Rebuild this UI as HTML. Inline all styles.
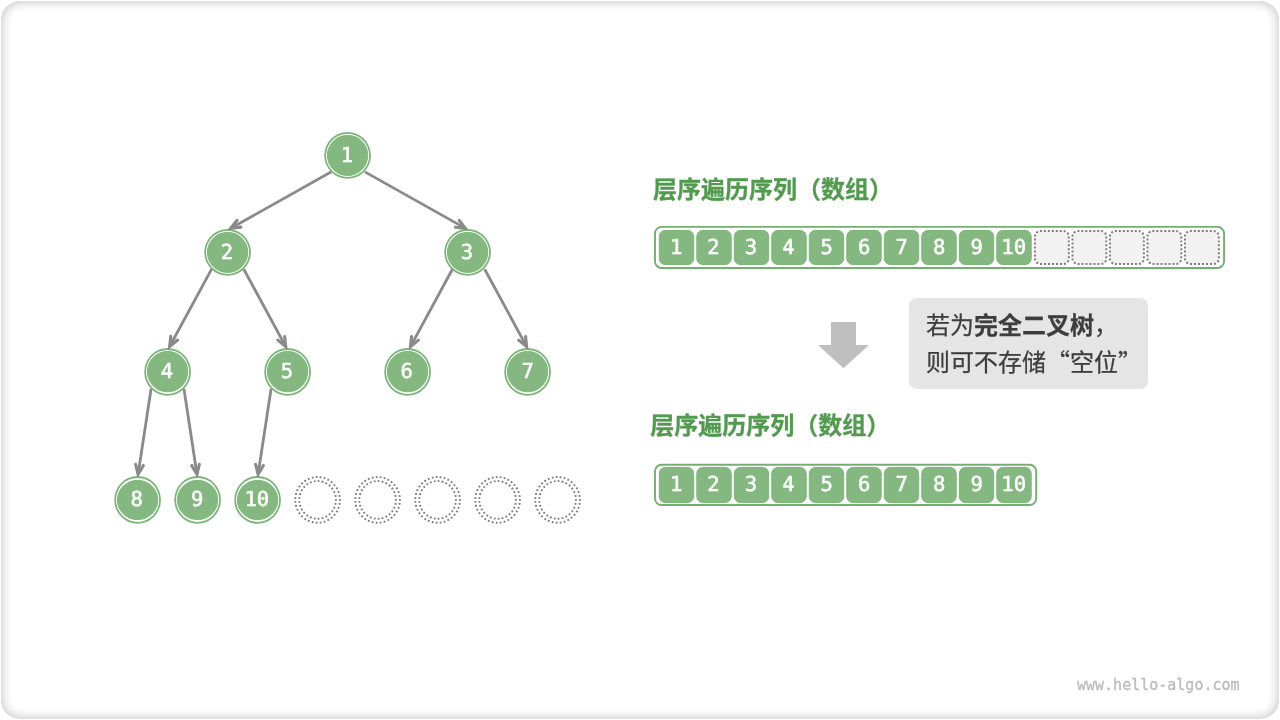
<!DOCTYPE html>
<html lang="zh-CN">
<head>
<meta charset="utf-8">
<title>完全二叉树的数组表示</title>
<style>
html,body{margin:0;padding:0;background:#fff;}
body{width:1280px;height:720px;overflow:hidden;position:relative;font-family:"Liberation Sans","Noto Sans CJK SC",sans-serif;}
#frame{position:absolute;left:1px;top:1px;width:1278px;height:718px;border-radius:19px;background:#fff;box-shadow:inset 0 0 12px 0 rgba(0,0,0,0.28);}
svg{position:absolute;left:0;top:0;will-change:transform;}
.num{text-rendering:geometricPrecision;font-family:"DejaVu Sans Mono","Liberation Mono",monospace;fill:#fff;stroke:#fff;stroke-width:0.5;text-anchor:middle;}
.title{stroke:#539a50;stroke-width:0.3px;font-family:"Liberation Sans","Noto Sans CJK SC",sans-serif;font-weight:700;font-size:24px;fill:#539a50;}
.note{stroke:#3d3d3d;stroke-width:0.25px;font-family:"Liberation Sans","Noto Sans CJK SC",sans-serif;font-size:24px;fill:#3d3d3d;}
.note .b{font-weight:700;}
.cjk{font-family:"Noto Sans CJK SC",sans-serif;}
.wm{font-family:"DejaVu Sans Mono","Liberation Mono",monospace;font-size:15px;fill:#bbb;stroke:#bbb;stroke-width:0.3px;}

</style>
</head>
<body>
<div id="frame"></div>
<svg width="1280" height="720" viewBox="0 0 1280 720">
<ellipse cx="347.60" cy="155.40" rx="23.33" ry="23.37" fill="#7bb578"/>
<ellipse cx="347.60" cy="155.40" rx="21.55" ry="21.55" fill="#fff"/>
<ellipse cx="347.60" cy="155.40" rx="20.2" ry="20.10" fill="#84b880" stroke="#7bb578" stroke-width="0.9"/>
<text class="num" x="347.00" y="161.85" font-size="20.6">1</text>
<ellipse cx="227.60" cy="252.35" rx="23.33" ry="23.37" fill="#7bb578"/>
<ellipse cx="227.60" cy="252.35" rx="21.55" ry="21.55" fill="#fff"/>
<ellipse cx="227.60" cy="252.35" rx="20.2" ry="20.10" fill="#84b880" stroke="#7bb578" stroke-width="0.9"/>
<text class="num" x="227.00" y="258.85" font-size="20.6">2</text>
<ellipse cx="467.60" cy="252.35" rx="23.33" ry="23.37" fill="#7bb578"/>
<ellipse cx="467.60" cy="252.35" rx="21.55" ry="21.55" fill="#fff"/>
<ellipse cx="467.60" cy="252.35" rx="20.2" ry="20.10" fill="#84b880" stroke="#7bb578" stroke-width="0.9"/>
<text class="num" x="467.00" y="258.85" font-size="20.6">3</text>
<ellipse cx="167.60" cy="371.90" rx="23.33" ry="23.87" fill="#7bb578"/>
<ellipse cx="167.60" cy="371.90" rx="21.55" ry="22.00" fill="#fff"/>
<ellipse cx="167.60" cy="371.60" rx="20.2" ry="20.25" fill="#84b880" stroke="#7bb578" stroke-width="0.9"/>
<text class="num" x="167.00" y="377.85" font-size="20.6">4</text>
<ellipse cx="287.60" cy="371.90" rx="23.33" ry="23.87" fill="#7bb578"/>
<ellipse cx="287.60" cy="371.90" rx="21.55" ry="22.00" fill="#fff"/>
<ellipse cx="287.60" cy="371.60" rx="20.2" ry="20.25" fill="#84b880" stroke="#7bb578" stroke-width="0.9"/>
<text class="num" x="287.00" y="377.85" font-size="20.6">5</text>
<ellipse cx="407.60" cy="371.90" rx="23.33" ry="23.87" fill="#7bb578"/>
<ellipse cx="407.60" cy="371.90" rx="21.55" ry="22.00" fill="#fff"/>
<ellipse cx="407.60" cy="371.60" rx="20.2" ry="20.25" fill="#84b880" stroke="#7bb578" stroke-width="0.9"/>
<text class="num" x="406.80" y="377.85" font-size="20.6">6</text>
<ellipse cx="527.60" cy="371.90" rx="23.33" ry="23.87" fill="#7bb578"/>
<ellipse cx="527.60" cy="371.90" rx="21.55" ry="22.00" fill="#fff"/>
<ellipse cx="527.60" cy="371.60" rx="20.2" ry="20.25" fill="#84b880" stroke="#7bb578" stroke-width="0.9"/>
<text class="num" x="527.70" y="377.85" font-size="20.6">7</text>
<ellipse cx="137.60" cy="499.90" rx="23.33" ry="23.87" fill="#7bb578"/>
<ellipse cx="137.60" cy="499.90" rx="21.55" ry="22.00" fill="#fff"/>
<ellipse cx="137.60" cy="500.00" rx="20.2" ry="19.65" fill="#84b880" stroke="#7bb578" stroke-width="0.9"/>
<text class="num" x="136.60" y="505.85" font-size="20.6">8</text>
<ellipse cx="197.60" cy="499.90" rx="23.33" ry="23.87" fill="#7bb578"/>
<ellipse cx="197.60" cy="499.90" rx="21.55" ry="22.00" fill="#fff"/>
<ellipse cx="197.60" cy="500.00" rx="20.2" ry="19.65" fill="#84b880" stroke="#7bb578" stroke-width="0.9"/>
<text class="num" x="197.10" y="505.85" font-size="20.6">9</text>
<ellipse cx="257.60" cy="499.90" rx="23.33" ry="23.87" fill="#7bb578"/>
<ellipse cx="257.60" cy="499.90" rx="21.55" ry="22.00" fill="#fff"/>
<ellipse cx="257.60" cy="500.00" rx="20.2" ry="19.65" fill="#84b880" stroke="#7bb578" stroke-width="0.9"/>
<text class="num" x="256.80" y="505.85" font-size="20.6">10</text>
<ellipse cx="317.60" cy="499.90" rx="22.33" ry="22.87" fill="none" stroke="#7d7d7d" stroke-width="1.9" pathLength="140" stroke-dasharray="1.8 2.2" stroke-dashoffset="0.9"/>
<ellipse cx="317.60" cy="499.90" rx="18.33" ry="18.87" fill="none" stroke="#7d7d7d" stroke-width="1.9" pathLength="116" stroke-dasharray="1.8 2.2" stroke-dashoffset="0.9"/>
<ellipse cx="377.60" cy="499.90" rx="22.33" ry="22.87" fill="none" stroke="#7d7d7d" stroke-width="1.9" pathLength="140" stroke-dasharray="1.8 2.2" stroke-dashoffset="0.9"/>
<ellipse cx="377.60" cy="499.90" rx="18.33" ry="18.87" fill="none" stroke="#7d7d7d" stroke-width="1.9" pathLength="116" stroke-dasharray="1.8 2.2" stroke-dashoffset="0.9"/>
<ellipse cx="437.60" cy="499.90" rx="22.33" ry="22.87" fill="none" stroke="#7d7d7d" stroke-width="1.9" pathLength="140" stroke-dasharray="1.8 2.2" stroke-dashoffset="0.9"/>
<ellipse cx="437.60" cy="499.90" rx="18.33" ry="18.87" fill="none" stroke="#7d7d7d" stroke-width="1.9" pathLength="116" stroke-dasharray="1.8 2.2" stroke-dashoffset="0.9"/>
<ellipse cx="497.60" cy="499.90" rx="22.33" ry="22.87" fill="none" stroke="#7d7d7d" stroke-width="1.9" pathLength="140" stroke-dasharray="1.8 2.2" stroke-dashoffset="0.9"/>
<ellipse cx="497.60" cy="499.90" rx="18.33" ry="18.87" fill="none" stroke="#7d7d7d" stroke-width="1.9" pathLength="116" stroke-dasharray="1.8 2.2" stroke-dashoffset="0.9"/>
<ellipse cx="557.60" cy="499.90" rx="22.33" ry="22.87" fill="none" stroke="#7d7d7d" stroke-width="1.9" pathLength="140" stroke-dasharray="1.8 2.2" stroke-dashoffset="0.9"/>
<ellipse cx="557.60" cy="499.90" rx="18.33" ry="18.87" fill="none" stroke="#7d7d7d" stroke-width="1.9" pathLength="116" stroke-dasharray="1.8 2.2" stroke-dashoffset="0.9"/>
<g transform="translate(0,0)" fill="none" stroke="#8a8a8a" stroke-width="2.8" stroke-linejoin="miter" stroke-miterlimit="10" stroke-linecap="round">
<path stroke-linecap="butt" d="M331.40 171.80 L230.78 228.30"/>
<path stroke-width="3.1" d="M237.06 220.30 L230.78 228.30 L240.88 227.10"/>
<path stroke-linecap="butt" d="M364.90 171.90 L465.52 228.40"/>
<path stroke-width="3.1" d="M455.42 227.20 L465.52 228.40 L459.24 220.40"/>
<path stroke-linecap="butt" d="M211.60 269.15 L169.67 346.47"/>
<path stroke-width="3.1" d="M170.73 336.35 L169.67 346.47 L177.58 340.06"/>
<path stroke-linecap="butt" d="M243.80 269.25 L285.73 346.57"/>
<path stroke-width="3.1" d="M277.82 340.16 L285.73 346.57 L284.67 336.45"/>
<path stroke-linecap="butt" d="M452.40 269.25 L410.47 346.57"/>
<path stroke-width="3.1" d="M411.53 336.45 L410.47 346.57 L418.38 340.16"/>
<path stroke-linecap="butt" d="M484.70 269.25 L526.63 346.57"/>
<path stroke-width="3.1" d="M518.72 340.16 L526.63 346.57 L525.57 336.45"/>
<path stroke-linecap="butt" d="M151.10 388.80 L138.10 474.21"/>
<path stroke-width="3.1" d="M135.66 464.33 L138.10 474.21 L143.37 465.50"/>
<path stroke-linecap="butt" d="M183.95 388.80 L196.95 474.21"/>
<path stroke-width="3.1" d="M191.68 465.50 L196.95 474.21 L199.39 464.33"/>
<path stroke-linecap="butt" d="M271.10 388.80 L258.10 474.21"/>
<path stroke-width="3.1" d="M255.66 464.33 L258.10 474.21 L263.37 465.50"/>
</g>
<text class="title" x="653.0" y="197.5">层序遍历序列（数组）</text>
<text class="title" x="650.3" y="434.0">层序遍历序列（数组）</text>
<rect x="655.00" y="226.90" width="569.05" height="41.05" rx="6.5" ry="6.5" fill="#fff" stroke="#73b06f" stroke-width="1.9"/>
<rect x="659.30" y="230.45" width="34.4" height="34.10" rx="6" ry="6" fill="#84b880" stroke="#7bb578" stroke-width="1"/>
<text class="num" x="676.10" y="253.80" font-size="20.6">1</text>
<rect x="696.80" y="230.45" width="34.4" height="34.10" rx="6" ry="6" fill="#84b880" stroke="#7bb578" stroke-width="1"/>
<text class="num" x="713.40" y="253.80" font-size="20.6">2</text>
<rect x="734.30" y="230.45" width="34.4" height="34.10" rx="6" ry="6" fill="#84b880" stroke="#7bb578" stroke-width="1"/>
<text class="num" x="750.90" y="253.80" font-size="20.6">3</text>
<rect x="771.80" y="230.45" width="34.4" height="34.10" rx="6" ry="6" fill="#84b880" stroke="#7bb578" stroke-width="1"/>
<text class="num" x="788.40" y="253.80" font-size="20.6">4</text>
<rect x="809.30" y="230.45" width="34.4" height="34.10" rx="6" ry="6" fill="#84b880" stroke="#7bb578" stroke-width="1"/>
<text class="num" x="826.80" y="253.80" font-size="20.6">5</text>
<rect x="846.80" y="230.45" width="34.4" height="34.10" rx="6" ry="6" fill="#84b880" stroke="#7bb578" stroke-width="1"/>
<text class="num" x="864.10" y="253.80" font-size="20.6">6</text>
<rect x="884.30" y="230.45" width="34.4" height="34.10" rx="6" ry="6" fill="#84b880" stroke="#7bb578" stroke-width="1"/>
<text class="num" x="901.60" y="253.80" font-size="20.6">7</text>
<rect x="921.80" y="230.45" width="34.4" height="34.10" rx="6" ry="6" fill="#84b880" stroke="#7bb578" stroke-width="1"/>
<text class="num" x="939.10" y="253.80" font-size="20.6">8</text>
<rect x="959.30" y="230.45" width="34.4" height="34.10" rx="6" ry="6" fill="#84b880" stroke="#7bb578" stroke-width="1"/>
<text class="num" x="976.60" y="253.80" font-size="20.6">9</text>
<rect x="996.80" y="230.45" width="34.4" height="34.10" rx="6" ry="6" fill="#84b880" stroke="#7bb578" stroke-width="1"/>
<text class="num" x="1013.70" y="253.80" font-size="20.6">10</text>
<rect x="1034.95" y="230.95" width="33.9" height="33.00" rx="5.5" ry="5.5" fill="#f2f2f2" stroke="#7d7d7d" stroke-width="2" pathLength="124" stroke-dasharray="2 2" stroke-dashoffset="0.6"/>
<rect x="1072.45" y="230.95" width="33.9" height="33.00" rx="5.5" ry="5.5" fill="#f2f2f2" stroke="#7d7d7d" stroke-width="2" pathLength="124" stroke-dasharray="2 2" stroke-dashoffset="0.6"/>
<rect x="1109.95" y="230.95" width="33.9" height="33.00" rx="5.5" ry="5.5" fill="#f2f2f2" stroke="#7d7d7d" stroke-width="2" pathLength="124" stroke-dasharray="2 2" stroke-dashoffset="0.6"/>
<rect x="1147.45" y="230.95" width="33.9" height="33.00" rx="5.5" ry="5.5" fill="#f2f2f2" stroke="#7d7d7d" stroke-width="2" pathLength="124" stroke-dasharray="2 2" stroke-dashoffset="0.6"/>
<rect x="1184.95" y="230.95" width="33.9" height="33.00" rx="5.5" ry="5.5" fill="#f2f2f2" stroke="#7d7d7d" stroke-width="2" pathLength="124" stroke-dasharray="2 2" stroke-dashoffset="0.6"/>
<rect x="655.00" y="464.80" width="381.20" height="40.25" rx="6.5" ry="6.5" fill="#fff" stroke="#73b06f" stroke-width="1.9"/>
<rect x="659.30" y="467.50" width="34.4" height="35.00" rx="6" ry="6" fill="#84b880" stroke="#7bb578" stroke-width="1"/>
<text class="num" x="676.10" y="491.00" font-size="20.6">1</text>
<rect x="696.80" y="467.50" width="34.4" height="35.00" rx="6" ry="6" fill="#84b880" stroke="#7bb578" stroke-width="1"/>
<text class="num" x="713.40" y="491.00" font-size="20.6">2</text>
<rect x="734.30" y="467.50" width="34.4" height="35.00" rx="6" ry="6" fill="#84b880" stroke="#7bb578" stroke-width="1"/>
<text class="num" x="750.90" y="491.00" font-size="20.6">3</text>
<rect x="771.80" y="467.50" width="34.4" height="35.00" rx="6" ry="6" fill="#84b880" stroke="#7bb578" stroke-width="1"/>
<text class="num" x="788.40" y="491.00" font-size="20.6">4</text>
<rect x="809.30" y="467.50" width="34.4" height="35.00" rx="6" ry="6" fill="#84b880" stroke="#7bb578" stroke-width="1"/>
<text class="num" x="826.80" y="491.00" font-size="20.6">5</text>
<rect x="846.80" y="467.50" width="34.4" height="35.00" rx="6" ry="6" fill="#84b880" stroke="#7bb578" stroke-width="1"/>
<text class="num" x="864.10" y="491.00" font-size="20.6">6</text>
<rect x="884.30" y="467.50" width="34.4" height="35.00" rx="6" ry="6" fill="#84b880" stroke="#7bb578" stroke-width="1"/>
<text class="num" x="901.60" y="491.00" font-size="20.6">7</text>
<rect x="921.80" y="467.50" width="34.4" height="35.00" rx="6" ry="6" fill="#84b880" stroke="#7bb578" stroke-width="1"/>
<text class="num" x="939.10" y="491.00" font-size="20.6">8</text>
<rect x="959.30" y="467.50" width="34.4" height="35.00" rx="6" ry="6" fill="#84b880" stroke="#7bb578" stroke-width="1"/>
<text class="num" x="976.60" y="491.00" font-size="20.6">9</text>
<rect x="996.80" y="467.50" width="34.4" height="35.00" rx="6" ry="6" fill="#84b880" stroke="#7bb578" stroke-width="1"/>
<text class="num" x="1013.70" y="491.00" font-size="20.6">10</text>
<path d="M831 322 H856 V345 H869 L843.5 368.2 L818 345 H831 Z" fill="#bfbfbf"/>
<rect x="909" y="298" width="239" height="91" rx="8" ry="8" fill="#e5e5e5"/>
<text class="note" x="926" y="334">若为<tspan class="b">完全二叉树</tspan><tspan class="cjk">，</tspan></text>
<text class="note" x="926" y="371">则可不存储<tspan class="cjk">“</tspan>空位<tspan class="cjk">”</tspan></text>
<text class="wm" x="1077" y="690">www.hello-algo.com</text>
</svg>
</body>
</html>
